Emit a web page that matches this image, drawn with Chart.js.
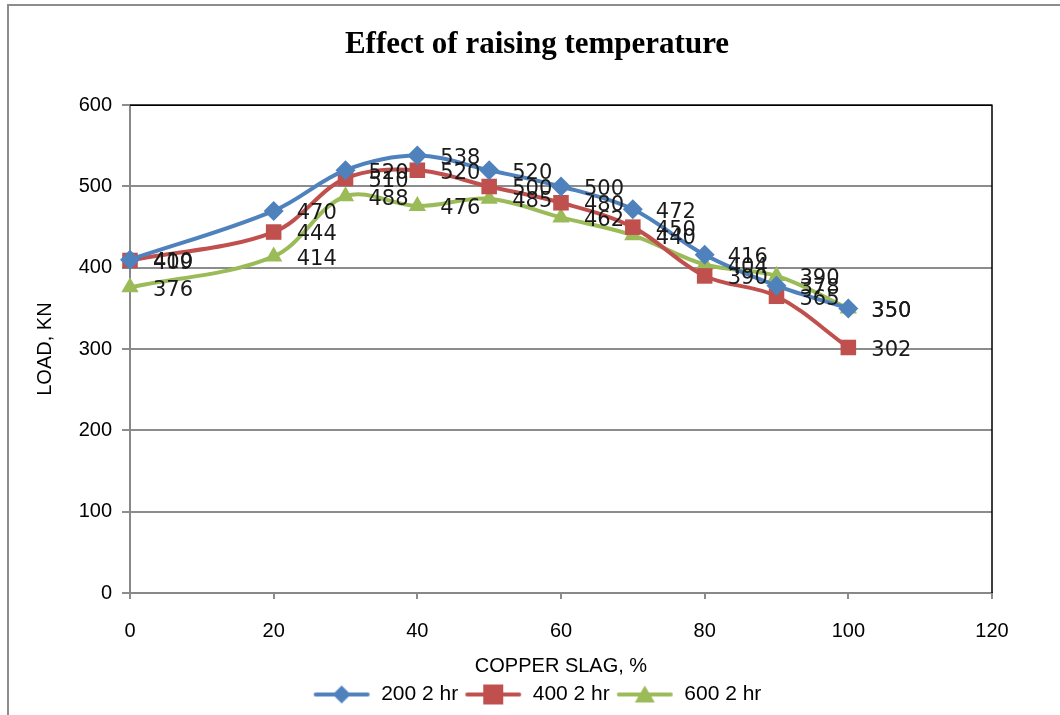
<!DOCTYPE html>
<html>
<head>
<meta charset="utf-8">
<script src="https://cdn.jsdelivr.net/npm/chart.js@4"></script>
<style>
  body { margin:0; background:#fff; }
  #wrap { position:relative; width:1060px; height:715px; }
  #frame { position:absolute; left:7px; top:4px; width:1060px; height:720px; border:2px solid #8c8c8c; box-sizing:border-box; }
  canvas { position:absolute; left:0; top:0; }
</style>
</head>
<body>
<div id="wrap">
  <div id="frame"></div>
  <canvas id="chart" width="1060" height="715"></canvas>
</div>
<script>
// chart data
const slag = [0, 20, 30, 40, 50, 60, 70, 80, 90, 100];
const load200 = [410, 470, 520, 538, 520, 500, 472, 416, 378, 350];
const load400 = [409, 444, 510, 520, 500, 480, 450, 390, 365, 302];
const load600 = [376, 414, 488, 476, 485, 462, 440, 404, 390, 350];
const seriesNames = ["200 2 hr", "400 2 hr", "600 2 hr"];
const colors = ["#4F81BD", "#C0504D", "#9BBB59"];
const markers = ["rectRot", "rect", "triangle"];

const sans = "'Liberation Sans', Arial, sans-serif";

function pts(vals){
    return slag.map((x,i)=>({x:x, y:vals[i]}));
}

// legend icon: short line with the marker on it
function legendIcon(color, marker){
    const c = document.createElement("canvas");
    c.width = 58; c.height = 22;
    const g = c.getContext("2d");
    g.strokeStyle = color; g.fillStyle = color;
    g.lineWidth = 4; g.lineCap = "round";
    g.beginPath(); g.moveTo(3,11); g.lineTo(55,11); g.stroke();
    g.beginPath();
    if(marker === "rectRot"){
        g.moveTo(29,2); g.lineTo(38,11); g.lineTo(29,20); g.lineTo(20,11);
    } else if(marker === "rect"){
        g.rect(19,1,20,20);
    } else {
        g.moveTo(29,2); g.lineTo(39,19); g.lineTo(19,19);
    }
    g.closePath(); g.fill();
    return c;
}

// dark edge on top and right of the plot area
const plotEdge = {
    id: "plotEdge",
    beforeDatasetsDraw(chart){
        const a = chart.chartArea, ctx = chart.ctx;
        ctx.save();
        ctx.strokeStyle = "#000";
        ctx.lineWidth = 1.5;
        ctx.beginPath();
        ctx.moveTo(a.left, a.top);
        ctx.lineTo(a.right, a.top);
        ctx.lineTo(a.right, a.bottom);
        ctx.stroke();
        ctx.restore();
    }
};

// value labels to the right of each point
const valueLabels = {
    id: "valueLabels",
    afterDatasetsDraw(chart){
        const ctx = chart.ctx;
        ctx.save();
        ctx.font = "21px 'DejaVu Sans', sans-serif";
        ctx.fillStyle = "#1a1a1a";
        ctx.textAlign = "left";
        ctx.textBaseline = "middle";
        chart.data.datasets.forEach((ds,di)=>{
            chart.getDatasetMeta(di).data.forEach((p,i)=>{
                ctx.fillText(ds.data[i].y, p.x + 23, p.y + 3);
            });
        });
        ctx.restore();
    }
};

const vals = [load200, load400, load600];

new Chart(document.getElementById("chart"), {
    type: "line",
    data: {
        datasets: vals.map((v,i)=>({
            label: seriesNames[i],
            data: pts(v),
            yAxisID: "y",
            clip: false,
            borderColor: colors[i],
            backgroundColor: colors[i],
            borderWidth: 4,
            tension: 0.35,
            pointStyle: markers[i],
            pointRadius: i === 1 ? 11 : 10,
            pointHoverRadius: 10,
            pointBorderWidth: 0
        }))
    },
    options: {
        responsive: false,
        animation: false,
        events: [],
        layout: { padding: { left: 14, right: 0, top: 0, bottom: 0 } },
        plugins: {
            title: {
                display: true,
                text: "Effect of raising temperature",
                color: "#000",
                font: { family: "'Liberation Serif', 'Times New Roman', serif", size: 31, weight: "bold" },
                padding: { top: 26, bottom: 42 }
            },
            legend: {
                position: "bottom",
                labels: {
                    usePointStyle: true,
                    pointStyleWidth: 58,
                    padding: 6,
                    color: "#000",
                    font: { family: sans, size: 21 },
                    generateLabels(chart){
                        return seriesNames.map((n,i)=>({
                            text: n,
                            pointStyle: legendIcon(colors[i], markers[i]),
                            fillStyle: colors[i],
                            strokeStyle: colors[i],
                            lineWidth: 0,
                            datasetIndex: i
                        }));
                    }
                }
            },
            tooltip: { enabled: false }
        },
        scales: {
            x: {
                type: "linear",
                min: 0, max: 120,
                ticks: { stepSize: 20, color: "#000", padding: 20,
                    font: { family: sans, size: 20 } },
                grid: { display: true, drawOnChartArea: false, drawTicks: true, tickLength: 6, color: "#8c8c8c", lineWidth: 2 },
                border: { color: "#888", width: 2 },
                title: { display: true, text: "COPPER SLAG, %", color: "#000", padding: { top: 10, bottom: 0 },
                    font: { family: sans, size: 20 } },
                afterFit(s){ s.height = 85; }
            },
            y: {
                min: 0, max: 600,
                ticks: { stepSize: 100, color: "#000", padding: 10,
                    font: { family: sans, size: 20 } },
                grid: { color: "#8c8c8c", lineWidth: 2, tickLength: 8 },
                border: { color: "#888", width: 2 },
                title: { display: true, text: "LOAD, KN", color: "#000", padding: { top: 19, bottom: 0 },
                    font: { family: sans, size: 20 } },
                afterFit(s){ s.width = 116; }
            },
            // empty axis that keeps space on the right of the plot
            pad: {
                position: "right",
                display: true,
                ticks: { display: false },
                grid: { display: false },
                border: { display: false },
                afterFit(s){ s.width = 68; }
            }
        }
    },
    plugins: [plotEdge, valueLabels]
});
</script>
</body>
</html>
